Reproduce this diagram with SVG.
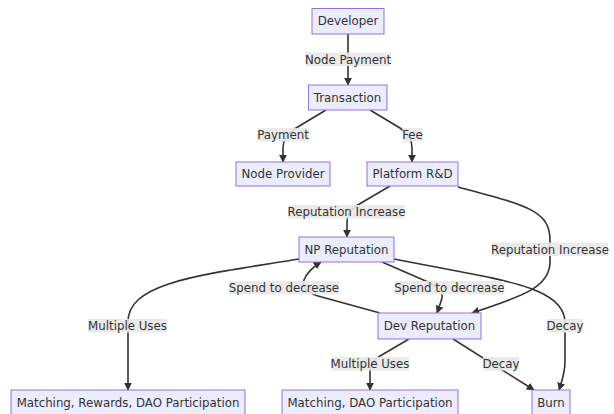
<svg xmlns="http://www.w3.org/2000/svg" width="614" height="414" viewBox="0 0 614 414">
<defs>
<style>
.node rect{fill:#ECECFF;stroke:#9370DB;stroke-width:1}
text{font-family:"DejaVu Sans",sans-serif;font-size:11.8px;fill:#333;text-anchor:middle;dominant-baseline:central}
.edges path{fill:none;stroke:#333;stroke-width:1.6}
.lbl rect{fill:#e8e8e8;opacity:0.9}
</style>
<marker id="ah" viewBox="0 0 10 10" refX="9" refY="5" markerWidth="8" markerHeight="8" markerUnits="userSpaceOnUse" orient="auto">
<path d="M0,0 L10,5 L0,10 z" fill="#333"/>
</marker>
</defs>
<rect width="614" height="414" fill="#fff"/>
<g class="edges">
<path d="M348,34 L348,85" marker-end="url(#ah)"/>
<path d="M326,110 L296,128 Q283,136 283,148 L283,162" marker-end="url(#ah)"/>
<path d="M370,110 L400,128 Q412,136 412,148 L412,162" marker-end="url(#ah)"/>
<path d="M390,186 L356,206 Q347,212 347,222 L347,237" marker-end="url(#ah)"/>
<path d="M458,187 C525,205 550,210 550,240 L550,262 C550,288 520,297 472,313" marker-end="url(#ah)"/>
<path d="M299,259 C200,275 128,282 128,322 L128,390" marker-end="url(#ah)"/>
<path d="M382,262 L428,282 Q444,290 442,298 Q440,305 437,313" marker-end="url(#ah)"/>
<path d="M380,313 L318,296 Q300,290 304,280 Q308,270 321,262" marker-end="url(#ah)"/>
<path d="M394,259 C500,280 560,285 565,320 L565,362 C565,373 562,381 559,390" marker-end="url(#ah)"/>
<path d="M409,339 L380,356 Q370,362 370,372 L370,390" marker-end="url(#ah)"/>
<path d="M453,339 L534,390" marker-end="url(#ah)"/>
</g>
<g class="lbl">
<rect x="305" y="52.5" width="86" height="13.5"/><text x="348" y="59.5">Node Payment</text>
<rect x="257" y="128" width="52" height="13.5"/><text x="283" y="135">Payment</text>
<rect x="402.5" y="128" width="20" height="13.5"/><text x="412.5" y="135">Fee</text>
<rect x="288" y="205" width="117" height="13.5"/><text x="346.5" y="212">Reputation Increase</text>
<rect x="492" y="242.5" width="116" height="13.5"/><text x="550" y="249.5">Reputation Increase</text>
<rect x="229" y="281" width="110" height="13.5"/><text x="284" y="288">Spend to decrease</text>
<rect x="395" y="281" width="109" height="13.5"/><text x="449.5" y="288">Spend to decrease</text>
<rect x="88" y="319" width="79" height="13.5"/><text x="127.5" y="326">Multiple Uses</text>
<rect x="547" y="319" width="36" height="13.5"/><text x="565" y="326">Decay</text>
<rect x="331" y="357" width="78" height="13.5"/><text x="370" y="364">Multiple Uses</text>
<rect x="483" y="357" width="36" height="13.5"/><text x="501" y="364">Decay</text>
</g>
<g id="developer" class="node"><rect x="312" y="8.5" width="72" height="25.5"/><text x="348" y="21">Developer</text></g>
<g id="transaction" class="node"><rect x="308.5" y="85" width="78.5" height="25"/><text x="347.5" y="97.5">Transaction</text></g>
<g id="nodeprovider" class="node"><rect x="236" y="162" width="94" height="24"/><text x="283" y="174">Node Provider</text></g>
<g id="platform" class="node"><rect x="367" y="162" width="91" height="24"/><text x="412.5" y="174">Platform R&amp;D</text></g>
<g id="nprep" class="node"><rect x="299" y="237" width="95" height="25"/><text x="346.5" y="249.5">NP Reputation</text></g>
<g id="devrep" class="node"><rect x="378" y="313" width="103" height="26"/><text x="429.5" y="326">Dev Reputation</text></g>
<g id="matching1" class="node"><rect x="11" y="390" width="234" height="26"/><text x="128" y="402.5">Matching, Rewards, DAO Participation</text></g>
<g id="matching2" class="node"><rect x="282" y="390" width="176" height="26"/><text x="370" y="402.5">Matching, DAO Participation</text></g>
<g id="burn" class="node"><rect x="532" y="390" width="38" height="26"/><text x="551" y="402.5">Burn</text></g>
</svg>
